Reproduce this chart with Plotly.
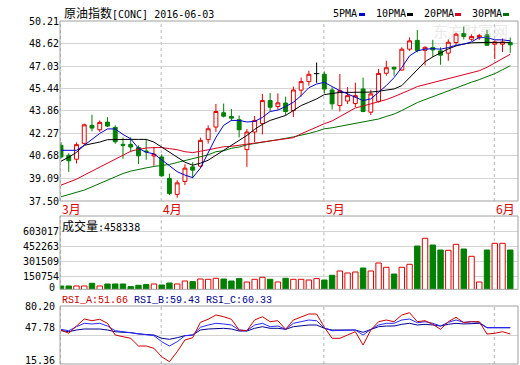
import plotly.graph_objects as go

# ---------------- data ----------------
idx = list(range(59))
month_labels = ["3月", "4月", "5月", "6月"]
month_start_idx = [0, 13, 34, 56]

opens = [41.43, 40.73, 40.45, 41.55, 42.84, 42.53, 43.07, 42.70, 41.50, 41.50,
         41.27, 41.03, 40.68, 40.61, 39.09, 37.97, 38.88, 39.91, 39.96, 41.83,
         42.72, 43.73, 43.47, 43.24, 41.13, 42.37, 42.97, 44.59, 44.17, 44.42,
         43.89, 45.33, 45.93, 46.49, 46.45, 45.34, 44.24, 44.56, 44.38, 45.41,
         43.77, 44.54, 46.52, 46.94, 46.75, 48.22, 48.84, 48.14, 48.33, 48.10,
         47.94, 48.69, 49.33, 48.92, 49.02, 49.23, 48.57, 48.57, 48.69]
highs = [41.66, 40.87, 41.64, 42.96, 43.59, 43.19, 43.42, 42.84, 41.99, 42.00,
         41.43, 41.85, 41.31, 40.80, 39.43, 38.97, 40.10, 40.24, 41.97, 42.84,
         44.35, 44.38, 43.99, 43.54, 42.59, 43.50, 45.06, 45.12, 45.10, 44.87,
         45.58, 46.21, 46.70, 47.28, 46.65, 45.53, 46.47, 45.54, 45.86, 46.21,
         45.36, 46.82, 47.40, 46.98, 48.35, 49.05, 49.58, 48.42, 48.88, 48.35,
         48.91, 49.39, 49.82, 49.28, 49.30, 49.58, 48.84, 48.98, 49.04]
lows = [40.50, 39.56, 40.15, 41.48, 42.42, 42.38, 42.72, 41.54, 40.48, 40.94,
        40.10, 40.41, 39.99, 39.21, 37.92, 37.73, 38.62, 39.11, 39.85, 41.55,
        42.37, 43.40, 43.15, 41.99, 39.91, 41.66, 42.20, 43.85, 43.96, 43.54,
        43.43, 44.87, 45.65, 45.84, 45.08, 43.96, 43.82, 44.35, 44.13, 43.77,
        43.57, 44.45, 46.35, 46.35, 46.70, 48.10, 47.99, 47.08, 47.68, 47.12,
        47.40, 48.50, 48.91, 48.81, 48.88, 48.45, 47.52, 48.03, 47.97]
closes = [40.61, 40.34, 41.48, 42.88, 42.65, 43.05, 42.79, 41.68, 41.43, 41.31,
          40.69, 40.98, 40.80, 39.28, 38.03, 38.78, 39.82, 39.68, 41.78, 42.60,
          43.82, 43.49, 43.35, 42.53, 42.37, 43.19, 44.59, 44.12, 44.43, 43.82,
          45.34, 45.93, 46.45, 46.49, 45.40, 44.36, 45.29, 44.94, 44.94, 43.82,
          45.06, 46.51, 46.91, 46.82, 48.22, 48.81, 48.12, 48.35, 48.17, 47.80,
          48.71, 49.28, 49.12, 49.12, 49.19, 48.50, 48.73, 48.73, 48.53]

ma5 = [41.08, 41.08, 41.08, 41.43, 41.85, 42.27, 42.59, 42.59, 42.20, 41.89,
       41.22, 40.94, 40.83, 40.41, 40.03, 39.57, 39.33, 39.15, 39.82, 40.87,
       41.99, 42.84, 43.19, 43.19, 43.08, 43.12, 43.40, 43.82, 43.92, 44.17,
       44.47, 44.94, 45.50, 45.76, 45.88, 45.58, 45.29, 45.06, 44.82, 44.59,
       44.71, 45.17, 45.65, 46.21, 46.93, 47.75, 48.10, 48.22, 48.26, 48.22,
       48.33, 48.50, 48.57, 48.74, 49.04, 49.04, 48.88, 48.88, 48.81]
ma10 = [40.31, 40.59, 40.94, 41.43, 41.55, 41.66, 41.83, 41.85, 41.85, 41.85,
        41.85, 41.85, 41.66, 41.31, 40.96, 40.59, 40.24, 40.03, 40.17, 40.38,
        40.73, 41.13, 41.43, 41.78, 42.13, 42.56, 42.91, 43.19, 43.38, 43.54,
        43.89, 44.24, 44.47, 44.71, 45.01, 45.10, 45.17, 45.17, 45.17, 45.17,
        45.19, 45.25, 45.34, 45.41, 45.65, 46.21, 46.84, 47.33, 47.68, 47.96,
        48.24, 48.45, 48.59, 48.67, 48.70, 48.70, 48.70, 48.70, 48.70]
ma20 = [38.62, 38.81, 39.04, 39.33, 39.61, 39.91, 40.22, 40.50, 40.78, 41.01,
        41.15, 41.24, 41.27, 41.27, 41.20, 41.12, 40.98, 40.92, 41.01, 41.12,
        41.27, 41.33, 41.36, 41.43, 41.54, 41.61, 41.69, 41.75, 41.82, 41.89,
        41.97, 42.24, 42.49, 42.73, 42.96, 43.15, 43.47, 43.78, 44.07, 44.21,
        44.35, 44.49, 44.66, 44.87, 45.08, 45.33, 45.58, 45.72, 45.86, 46.00,
        46.12, 46.24, 46.38, 46.52, 46.70, 46.94, 47.23, 47.54, 47.86]
ma30 = [37.80, 37.97, 38.11, 38.27, 38.50, 38.74, 38.97, 39.21, 39.44, 39.61,
        39.75, 39.84, 39.94, 39.99, 40.08, 40.22, 40.36, 40.45, 40.62, 40.76,
        40.98, 41.05, 41.22, 41.31, 41.47, 41.55, 41.64, 41.71, 41.82, 41.92,
        42.03, 42.13, 42.27, 42.42, 42.60, 42.67, 42.77, 42.84, 42.94, 43.05,
        43.15, 43.29, 43.47, 43.64, 43.89, 44.17, 44.45, 44.66, 44.87, 45.08,
        45.29, 45.50, 45.72, 45.89, 46.07, 46.28, 46.49, 46.77, 47.05]

volume = [50250, 50250, 50250, 50250, 77385, 50250, 70350, 70350, 70350, 44220,
          57285, 64320, 70350, 60300, 80400, 70350, 100500, 94470, 120600, 117585,
          127635, 120600, 100500, 124620, 90450, 117585, 137685, 117585, 90450, 127635,
          117585, 117585, 110550, 124620, 110550, 157785, 201000, 180900, 190950, 231150,
          201000, 281400, 238185, 170850, 238185, 268335, 452250, 529635, 462300, 412050,
          409035, 469335, 422100, 348735, 90450, 412050, 479385, 479385, 412050]

rsi_a = [53.37, 49.68, 57.84, 65.67, 63.77, 65.33, 60.86, 47.78, 45.89, 44.09,
         35.48, 35.48, 32.91, 23.52, 17.93, 29.11, 42.19, 44.76, 61.98, 65.33,
         70.14, 68.24, 65.33, 53.37, 52.59, 64.55, 68.24, 62.65, 63.77, 54.15,
         64.55, 68.24, 71.26, 71.26, 56.39, 44.09, 44.09, 47.78, 51.47, 36.60,
         53.37, 62.65, 64.55, 62.65, 70.14, 72.71, 62.65, 63.77, 59.74, 54.15,
         62.65, 67.57, 61.53, 62.65, 62.65, 48.90, 49.68, 51.47, 48.90]
rsi_b = [54.15, 52.59, 57.06, 60.86, 60.08, 60.86, 57.84, 52.59, 51.47, 50.35,
         48.90, 48.56, 47.01, 40.29, 35.48, 40.29, 47.01, 47.78, 56.39, 58.96,
         60.86, 60.08, 58.96, 53.37, 52.59, 58.96, 60.86, 57.06, 57.84, 54.15,
         60.86, 62.65, 64.55, 63.77, 55.27, 52.59, 52.59, 52.59, 53.37, 47.78,
         54.15, 58.96, 60.86, 60.86, 64.55, 65.67, 61.53, 62.65, 60.86, 57.84,
         61.98, 64.55, 61.98, 62.65, 61.98, 55.94, 55.94, 55.94, 55.94]
rsi_c = [52.59, 51.47, 53.37, 54.49, 54.49, 54.49, 53.37, 51.47, 50.80, 50.35,
         48.90, 48.56, 47.78, 44.09, 42.97, 44.76, 47.01, 47.78, 53.37, 54.49,
         55.27, 55.27, 54.49, 52.25, 52.25, 55.27, 57.06, 55.27, 55.27, 54.15,
         57.06, 58.18, 58.96, 58.96, 55.27, 53.37, 53.37, 53.37, 53.37, 50.80,
         54.15, 57.06, 57.84, 57.84, 59.74, 60.86, 58.96, 59.74, 58.96, 57.84,
         59.74, 60.86, 60.08, 60.86, 60.86, 55.94, 55.94, 55.94, 55.94]

price_ticks = [50.21, 48.62, 47.03, 45.44, 43.86, 42.27, 40.68, 39.09, 37.50]
vol_ticks = [150754, 301509, 452263, 603017]
rsi_ticks = [15.36, 47.78, 80.20]
title_name = "原油指数"
title_rest = "[CONC] 2016-06-03"
vol_name = "成交量"
vol_rest = ":458338"
rsi_labels = ["RSI_A:51.66", "RSI_B:59.43", "RSI_C:60.33"]
ma_names = ["5PMA", "10PMA", "20PMA", "30PMA"]

# ---------------- style ----------------
RED = "#e00000"
GREEN = "#008000"
MA_COLORS = ["#0000d0", "#000000", "#d80020", "#007000"]
GRID = "#d4d4d4"
BORDER = "#a0a0a0"
MONO = "DejaVu Sans Mono, Noto Sans CJK SC, monospace"
MONO2 = "Liberation Mono, DejaVu Sans Mono, monospace"
CJK = "Noto Sans CJK SC, DejaVu Sans Mono, sans-serif"

W, H = 520, 365
L, R, T, B = 60, 2, 21, 1
PW = W - L - R
PH = H - T - B


def px_x(x):
    return (x - L) / PW


def px_y(y):
    return (H - B - y) / PH


price_dom = [px_y(201), 1.0]
vol_dom = [px_y(289.3), px_y(216)]
rsi_dom = [0.0, px_y(306)]

xr = [-0.129, 59.0]

fig = go.Figure()

# candles (non-doji)
cidx = [i for i in idx if opens[i] != closes[i]]
fig.add_trace(go.Candlestick(
    x=[idx[i] for i in cidx], open=[opens[i] for i in cidx], high=[highs[i] for i in cidx],
    low=[lows[i] for i in cidx], close=[closes[i] for i in cidx],
    increasing=dict(line=dict(color=RED, width=1), fillcolor="white"),
    decreasing=dict(line=dict(color=GREEN, width=1), fillcolor=GREEN),
    whiskerwidth=0, xaxis="x", yaxis="y", hoverinfo="skip", showlegend=False))

# doji candles in black
dx, dy = [], []
for i in idx:
    if opens[i] == closes[i]:
        dx += [idx[i], idx[i], None, idx[i] - 0.35, idx[i] + 0.35, None]
        dy += [lows[i], highs[i], None, opens[i], closes[i], None]
fig.add_trace(go.Scatter(x=dx, y=dy, mode="lines", line=dict(color="black", width=1),
                         xaxis="x", yaxis="y", hoverinfo="skip", showlegend=False))

for vals, col in zip([ma30, ma20, ma10, ma5], MA_COLORS[::-1]):
    fig.add_trace(go.Scatter(x=idx, y=vals, mode="lines", line=dict(color=col, width=1),
                             xaxis="x", yaxis="y", hoverinfo="skip", showlegend=False))

# volume
up = [closes[i] >= opens[i] for i in idx]
fig.add_trace(go.Bar(
    x=idx, y=volume, width=0.7,
    marker=dict(color=["white" if u else GREEN for u in up],
                line=dict(color=[RED if u else GREEN for u in up], width=1)),
    xaxis="x2", yaxis="y2", hoverinfo="skip", showlegend=False))

# RSI
for vals, col in zip([rsi_c, rsi_b, rsi_a], ["#000090", "#2828ff", "#cc0000"]):
    fig.add_trace(go.Scatter(x=idx, y=vals, mode="lines", line=dict(color=col, width=1),
                             xaxis="x3", yaxis="y3", hoverinfo="skip", showlegend=False))

tickfont = dict(family=MONO, size=10, color="black")
xcommon = dict(range=xr, showticklabels=False, showgrid=False, zeroline=False,
               showline=False, ticks="", automargin=False, rangeslider=dict(visible=False))
ycommon = dict(showgrid=True, gridcolor=GRID, gridwidth=1, zeroline=False,
               showline=False, ticks="", tickfont=tickfont, fixedrange=True, automargin=False)

fig.update_layout(
    template="none",
    width=W, height=H, margin=dict(l=L, r=R, t=T, b=B, autoexpand=False),
    paper_bgcolor="white", plot_bgcolor="white", showlegend=False,
    boxgap=0.28,
    xaxis=dict(domain=[0, 1], anchor="y", **xcommon),
    xaxis2=dict(domain=[0, 1], anchor="y2", matches="x", **xcommon),
    xaxis3=dict(domain=[0, 1], anchor="y3", matches="x", **xcommon),
    yaxis=dict(domain=price_dom, range=[price_ticks[-1], price_ticks[0]], tickvals=price_ticks,
               ticktext=["%.2f" % v for v in price_ticks], anchor="x", **ycommon),
    yaxis2=dict(domain=vol_dom, range=[17000, 754000], tickvals=vol_ticks,
                ticktext=[str(v) for v in vol_ticks], anchor="x2", **ycommon),
    yaxis3=dict(domain=rsi_dom, range=[rsi_ticks[0], rsi_ticks[-1]], tickvals=[rsi_ticks[1]],
                ticktext=[""], anchor="x3", **ycommon),
)

shapes = []
# panel borders
for dom in [price_dom, vol_dom, rsi_dom]:
    shapes.append(dict(type="rect", xref="paper", yref="paper", x0=0, x1=1, y0=dom[0], y1=dom[1],
                       line=dict(color=BORDER, width=1), fillcolor="rgba(0,0,0,0)", layer="above"))
# month dashed lines
for mi in month_start_idx:
    for dom in [price_dom, vol_dom, rsi_dom]:
        shapes.append(dict(type="line", xref="x", yref="paper", x0=mi - 0.06, x1=mi - 0.06,
                           y0=dom[0], y1=dom[1], line=dict(color="#b4b4b4", width=1, dash="3px,3px"),
                           layer="below"))
# legend swatches
sw_x = [359, 407, 455, 503]
for sx, col in zip(sw_x, MA_COLORS):
    shapes.append(dict(type="rect", xref="paper", yref="paper", x0=px_x(sx), x1=px_x(sx + 6),
                       y0=px_y(16), y1=px_y(13), fillcolor=col, line=dict(width=0)))
fig.update_layout(shapes=shapes)

ann = []
ann.append(dict(text="<span style='font-size:12px'>%s</span>%s" % (title_name, title_rest),
                xref="paper", yref="paper", x=px_x(62), y=px_y(14),
                xanchor="left", yanchor="middle", showarrow=False, font=dict(family=MONO, size=10, color="black")))
for name, lx in zip(ma_names, [331, 374, 422, 470]):
    ann.append(dict(text=name, xref="paper", yref="paper", x=px_x(lx), y=px_y(14),
                    xanchor="left", yanchor="middle", showarrow=False, font=dict(family=MONO, size=10, color="black")))
for lab, mi in zip(month_labels, month_start_idx):
    ann.append(dict(text=lab, xref="x", yref="paper", x=mi - 0.06 if mi > 0 else xr[0], y=px_y(208.5),
                    xanchor="left", yanchor="middle", showarrow=False, font=dict(family=CJK, size=12, color=RED)))
ann.append(dict(text="<span style='font-size:12px'>%s</span>%s" % (vol_name, vol_rest),
                xref="paper", yref="paper", x=px_x(60), y=px_y(226),
                xanchor="left", yanchor="middle", showarrow=False, font=dict(family=MONO, size=10, color="black")))
ann.append(dict(text="0", xref="paper", yref="paper", x=px_x(57), y=px_y(287.5),
                xanchor="right", yanchor="middle", showarrow=False, font=tickfont))
# RSI axis labels (placed like the reference)
for lab, yy in zip(["%.2f" % v for v in rsi_ticks], [360, 327, 306]):
    ann.append(dict(text=lab, xref="paper", yref="paper", x=px_x(57), y=px_y(yy),
                    xanchor="right", yanchor="middle", showarrow=False, font=tickfont))
rsi_txt = ("<span style='color:#cc0000'>%s</span> <span style='color:#000090'>%s</span> "
           "<span style='color:#000090'>%s</span>") % tuple(rsi_labels)
ann.append(dict(text=rsi_txt, xref="paper", yref="paper", x=px_x(60), y=px_y(300),
                xanchor="left", yanchor="middle", showarrow=False, font=dict(family=MONO2, size=10)))
ann.append(dict(text="东方财富网", xref="paper", yref="paper", x=px_x(470), y=px_y(30),
                xanchor="center", yanchor="middle", showarrow=False,
                font=dict(family=CJK, size=15, color="rgba(190,190,190,0.35)")))
fig.update_layout(annotations=ann)

fig.write_html("out.html", config={"displayModeBar": False, "staticPlot": True},
               post_script="document.body.style.margin='0px';")
